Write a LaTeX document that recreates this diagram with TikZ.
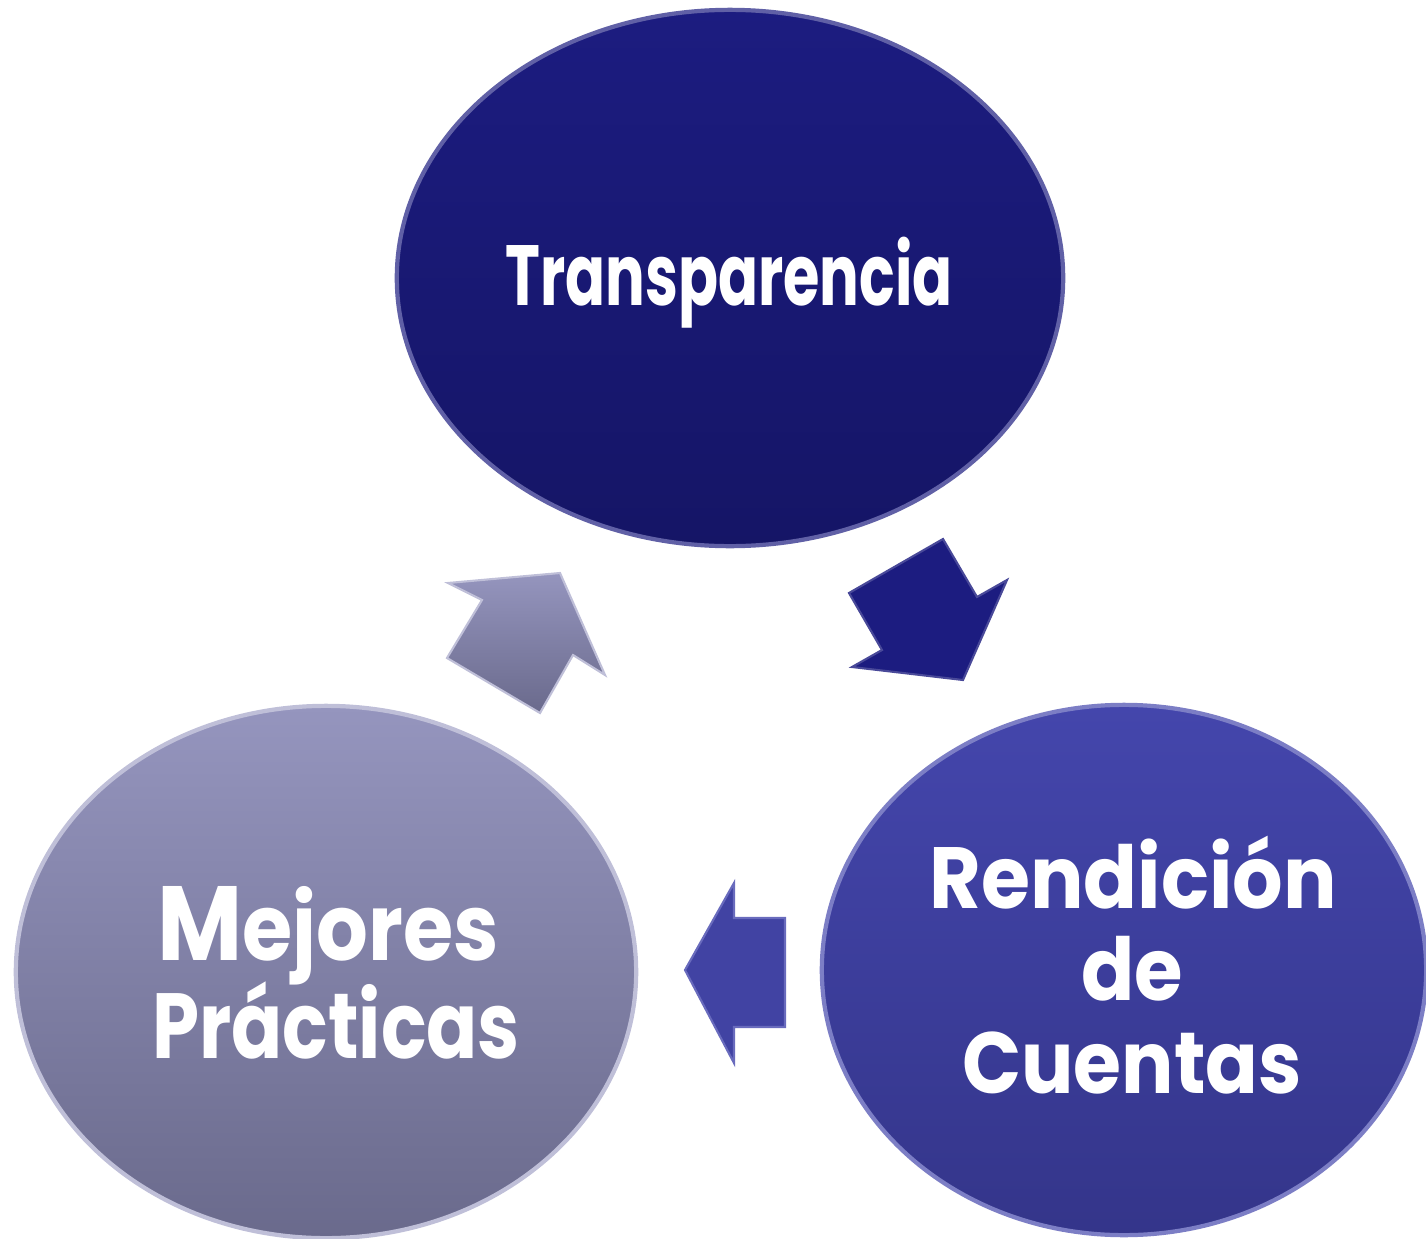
\documentclass[tikz,border=0pt]{standalone}
\usepackage{fontspec}
\setmainfont{Poppins}
\usetikzlibrary{shapes.geometric}
\definecolor{navyTop}{HTML}{1C1C80}
\definecolor{navyBot}{HTML}{151566}
\definecolor{blueTop}{HTML}{4446AC}
\definecolor{blueBot}{HTML}{34358A}
\definecolor{grayTop}{HTML}{9595BE}
\definecolor{grayBot}{HTML}{6A6A8C}
\tikzset{
  bubble/.style={ellipse, inner sep=0pt, outer sep=0pt, line width=1.2pt},
  label/.style={anchor=base, inner sep=0pt, text=white, font=\bfseries},
  blockarrow/.style={line width=0.6pt, line join=miter}
}
\begin{document}
\begin{tikzpicture}[x=0.01cm,y=-0.01cm]
\useasboundingbox (0,0) rectangle (1426,1239);
% ellipses
\node[bubble, minimum width=6.66cm, minimum height=5.36cm,
  top color=navyTop, bottom color=navyBot, draw=navyTop!70!white] (T) at (730,278) {};
\node[bubble, minimum width=6.04cm, minimum height=5.30cm,
  top color=blueTop, bottom color=blueBot, draw=blueTop!70!white] (R) at (1124,970) {};
\node[bubble, minimum width=6.20cm, minimum height=5.32cm,
  top color=grayTop, bottom color=grayBot, draw=grayTop!60!white] (M) at (326,972) {};
% texts
\node[label, font=\bfseries\fontsize{24.3}{28}\selectfont] (tT) at (729,305)
  {\scalebox{0.69}[1]{Transparencia}};
\node[label, font=\bfseries\fontsize{24.7}{28}\selectfont] (tR1) at (1133,908)
  {\scalebox{0.915}[1]{Rendición}};
\node[label, font=\bfseries\fontsize{24.7}{28}\selectfont] (tR2) at (1132,1000)
  {\scalebox{0.905}[1]{de}};
\node[label, font=\bfseries\fontsize{24.7}{28}\selectfont] (tR3) at (1132,1093)
  {\scalebox{0.895}[1]{Cuentas}};
\node[label, font=\bfseries\fontsize{26.3}{28}\selectfont] (tM1) at (328,960)
  {\scalebox{0.88}[1]{{\fontsize{30}{28}\selectfont M}ejores}};
\node[label, font=\bfseries\fontsize{26.3}{28}\selectfont] (tM2) at (336,1058)
  {\scalebox{0.815}[1]{Prácticas}};
% arrow Transparencia -> Rendicion
\path[blockarrow, fill=navyTop, draw=navyTop!80!white]
  (849,593) -- (943,539) -- (977,597) -- (1007,580) -- (963,680)
  -- (852,667) -- (882,650) -- cycle;
% arrow Rendicion -> Mejores
\path[blockarrow, fill=blueTop!95!black, draw=blueTop!80!white]
  (685,970) -- (734,883) -- (734,918) -- (785,918) -- (785,1027)
  -- (734,1027) -- (734,1063) -- cycle;
% arrow Mejores -> Transparencia
\path[blockarrow, top color=grayTop, bottom color=grayBot, draw=grayTop!60!white]
  (448,583) -- (560,573) -- (605,675) -- (573,655) -- (540,713)
  -- (447,658) -- (482,600) -- cycle;
\end{tikzpicture}
\end{document}
